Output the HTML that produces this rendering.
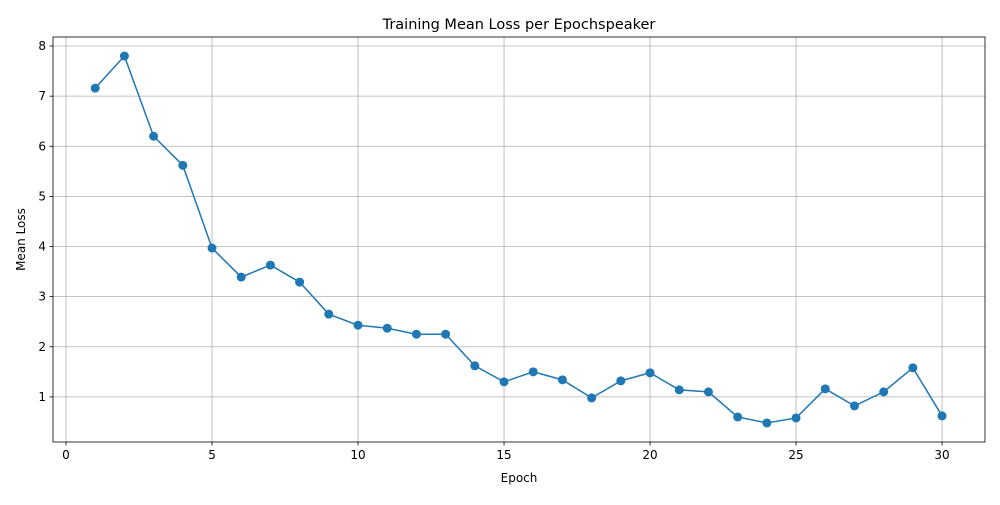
<!DOCTYPE html>
<html><head><meta charset="utf-8"><style>
body{margin:0;background:#fff;font-family:"Liberation Sans","DejaVu Sans",sans-serif;}
svg text{font-family:"DejaVu Sans","Liberation Sans",sans-serif;}
</style></head><body>
<svg id="chart" width="1000" height="500" xmlns="http://www.w3.org/2000/svg"></svg>
<script>
const epochs=[1,2,3,4,5,6,7,8,9,10,11,12,13,14,15,16,17,18,19,20,21,22,23,24,25,26,27,28,29,30];
const losses=[7.16,7.80,6.20,5.62,3.97,3.39,3.63,3.29,2.65,2.43,2.37,2.25,2.25,1.62,1.30,1.50,1.34,0.98,1.32,1.48,1.14,1.10,0.60,0.48,0.58,1.16,0.82,1.10,1.58,0.62];
const xTicks=[0,5,10,15,20,25,30];
const yTicks=[1,2,3,4,5,6,7,8];
const L=53,R=985,T=37,B=442;
const xMin=-0.445,xMax=31.47,yMin=0.1,yMax=8.18;
const sx=v=>L+(v-xMin)/(xMax-xMin)*(R-L);
const sy=v=>B-(v-yMin)/(yMax-yMin)*(B-T);
const svg=document.getElementById('chart');
const NS='http://www.w3.org/2000/svg';
function mk(tag,attrs,parent){const e=document.createElementNS(NS,tag);for(const k in attrs)e.setAttribute(k,attrs[k]);(parent||svg).appendChild(e);return e;}
const grid=mk('g',{});


xTicks.forEach(t=>{
  const x=sx(t);
  const gl=mk('line',{x1:x,x2:x,y1:T,y2:B,stroke:'#b0b0b0','stroke-width':0.8},grid);
  
  
  mk('line',{x1:x,x2:x,y1:B,y2:B+3.5,stroke:'#000','stroke-width':0.8});
  const tx=mk('text',{x:x,y:B+17,'text-anchor':'middle','font-size':12});
  tx.textContent=t;
  
  
});
yTicks.forEach(t=>{
  const y=sy(t);
  const gl=mk('line',{x1:L,x2:R,y1:y,y2:y,stroke:'#b0b0b0','stroke-width':0.8},grid);
  
  
  mk('line',{x1:L-3.5,x2:L,y1:y,y2:y,stroke:'#000','stroke-width':0.8});
  const tx=mk('text',{x:L-7,y:y+4,'text-anchor':'end','font-size':12});
  tx.textContent=t;
  
  
});
const frame=mk('rect',{x:L,y:T,width:R-L,height:B-T,fill:'none',stroke:'#000','stroke-width':0.8});


const line=mk('polyline',{points:epochs.map((e,i)=>sx(e)+','+sy(losses[i])).join(' '),fill:'none',stroke:'#1f77b4','stroke-width':1.5});


epochs.forEach((e,i)=>{
  const c=mk('circle',{cx:sx(e),cy:sy(losses[i]),r:4.5,fill:'#1f77b4'});
  
  
});
const title=mk('text',{x:(L+R)/2,y:29,'text-anchor':'middle','font-size':14.5});
title.textContent='Training Mean Loss per Epochspeaker';


const xl=mk('text',{x:(L+R)/2,y:482,'text-anchor':'middle','font-size':12});
xl.textContent='Epoch';


const yl=mk('text',{x:0,y:0,'text-anchor':'middle','font-size':12,transform:`translate(25,${(T+B)/2}) rotate(-90)`});
yl.textContent='Mean Loss';


</script>
</body></html>
